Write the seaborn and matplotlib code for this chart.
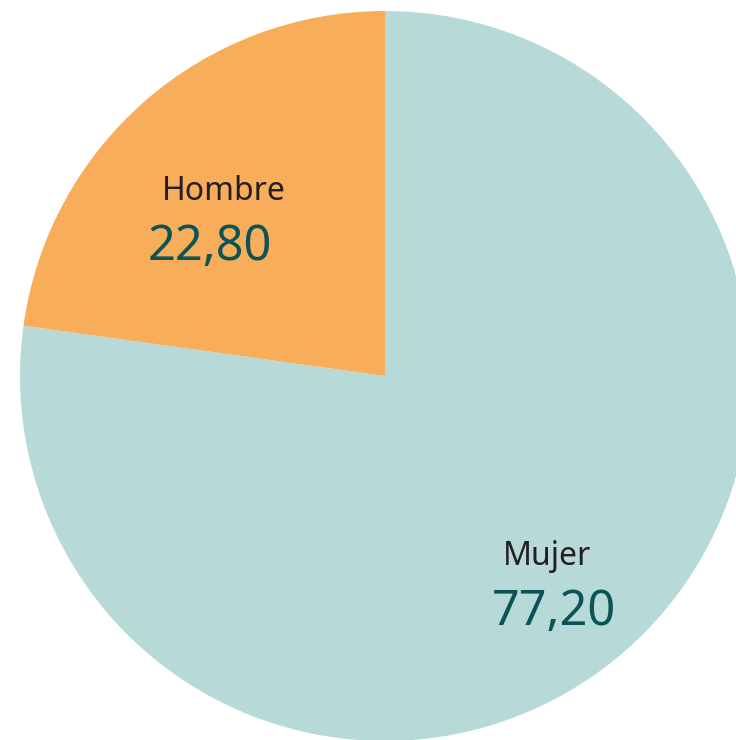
import matplotlib
matplotlib.use("Agg")
import matplotlib.pyplot as plt
import seaborn as sns

# data
categories = ["Mujer", "Hombre"]
values = [77.20, 22.80]
value_labels = ["77,20", "22,80"]
colors = ["#b7dad9", "#f8ad5b"]

sns.set_theme(style="white")
plt.rcParams['font.family'] = ['Noto Sans', 'DejaVu Sans']

W, H = 736, 740
fig = plt.figure(figsize=(W / 100, H / 100), dpi=100)
ax = fig.add_axes([0, 0, 1, 1])
ax.set_xlim(0, W)
ax.set_ylim(0, H)
ax.set_aspect('equal')
ax.axis('off')

# pie centred at pixel (385, 376), radius 365
ax.pie(values, colors=colors, startangle=90, counterclock=False,
       center=(385, H - 376), radius=365, frame=True,
       wedgeprops={'linewidth': 0})
ax.set_xlim(0, W)
ax.set_ylim(0, H)
ax.axis('off')

# label positions in pixel coords (x, baseline y)
name_pos = {"Mujer": (547, 565), "Hombre": (224, 200)}
value_pos = {"Mujer": (554, 625), "Hombre": (210, 260)}

for cat, lab in zip(categories, value_labels):
    x, y = name_pos[cat]
    ax.text(x, H - y, cat, ha='center', va='baseline', fontsize=23, color='#231f20')
    x, y = value_pos[cat]
    ax.text(x, H - y, lab, ha='center', va='baseline', fontsize=35, color='#0a5457')

fig.savefig("out.png", dpi=100, facecolor='white')
